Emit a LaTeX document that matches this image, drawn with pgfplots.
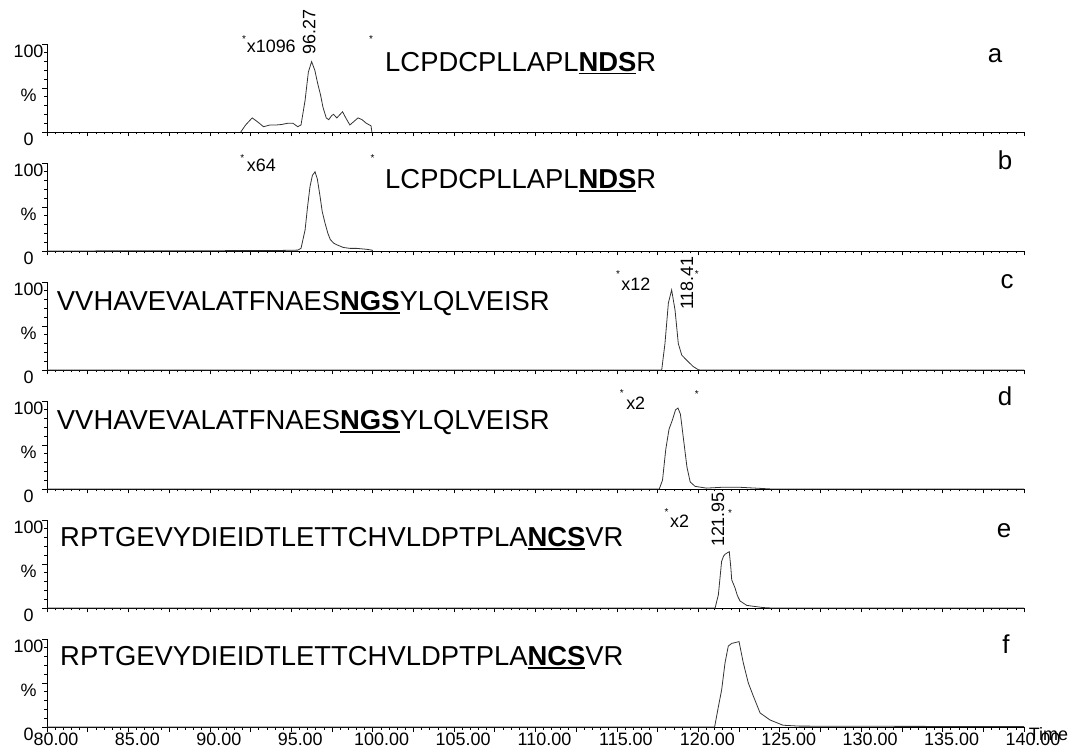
\documentclass[border=0pt]{standalone}
\usepackage{pgfplots}
\pgfplotsset{compat=1.18}
\usepackage{fontspec}
\setmainfont{Liberation Sans}
\newcommand{\ulb}[1]{\setbox0\hbox{\textbf{#1}}\rlap{\rule[-3bp]{\wd0}{1.8bp}}\box0}
\newcommand{\fs}[1]{\fontsize{#1}{#1}\selectfont}
\pgfplotsset{
 panel/.style={
  scale only axis, width=977bp, height=88bp,
  xmin=80, xmax=140, ymin=0, ymax=100,
  axis x line*=bottom, axis y line*=left,
  xtick={80,82.5,...,140}, minor x tick num=4,
  ytick={0,50,100}, yticklabels={0,\%,100}, minor y tick num=4,
  tick align=outside, major tick length=4.5bp, minor tick length=2.5bp,
  every tick/.style={black, line width=0.6bp},
  axis line style={black, line width=0.8bp},
  tick label style={font=\fs{18}},
  yticklabel style={anchor=center, xshift=-14bp, yshift=-7bp},
  xticklabels={},
  clip=false, anchor=south west,
 },
 curve/.style={line width=0.8bp, black!80, mark=none},
}
\begin{document}
\begin{tikzpicture}
\useasboundingbox (0,0) rectangle (1073bp,754bp);
% panel a
\begin{axis}[panel, at={(47bp,622bp)}]
\addplot[curve] coordinates {(91.9,0)(92.2,8)(92.6,16)(92.9,12)(93.3,6)(93.7,8)(94.1,8)(94.4,8.5)(94.8,10)(95.1,10)(95.4,6)(95.6,8)(95.85,36)(96.05,68)(96.25,80)(96.45,70)(96.6,57)(96.8,42)(96.95,28)(97.15,16)(97.3,14)(97.5,19)(97.6,20)(97.8,16)(98.0,20)(98.15,23)(98.35,16)(98.6,8)(98.85,12)(99.1,16)(99.35,14)(99.6,10)(99.9,7)(99.95,0)};
\node[font=\fs{10}] at (axis cs:92.1,106) {*};
\node[font=\fs{10}] at (axis cs:99.9,106) {*};
\node[font=\fs{18}, anchor=west, inner sep=1bp] at (axis cs:92.2,97) {x1096};
\node[font=\fs{18}, rotate=90, anchor=west, inner sep=1bp] at (axis cs:96.1,87) {96.27};
\node[font=\fs{27.5}, anchor=west, inner sep=0pt] at (axis cs:100.76,78) {LCPDCPLLAPL\ulb{NDS}R};
\node[font=\fs{26}] at (axis cs:138.22,87) {a};
\end{axis}
% panel b
\begin{axis}[panel, at={(47bp,503bp)}]
\addplot[curve] coordinates {(80,0)(94,0.5)(95.4,1)(95.6,3)(95.85,24)(96.0,50)(96.15,73)(96.3,86)(96.46,90)(96.6,82)(96.77,62)(96.9,45)(97.07,32)(97.25,20)(97.4,13)(97.6,9)(97.8,7)(98.2,4)(98.6,3)(99.0,3)(99.6,2)(99.95,1)(100,0)};
\node[font=\fs{10}] at (axis cs:92.0,106) {*};
\node[font=\fs{10}] at (axis cs:100.0,106) {*};
\node[font=\fs{18}, anchor=west, inner sep=1bp] at (axis cs:92.2,97) {x64};
\node[font=\fs{27.5}, anchor=west, inner sep=0pt] at (axis cs:100.76,80) {LCPDCPLLAPL\ulb{NDS}R};
\node[font=\fs{26}] at (axis cs:138.83,103) {b};
\end{axis}
% panel c
\begin{axis}[panel, at={(47bp,384bp)}]
\addplot[curve] coordinates {(80,0)(117.75,0)(117.95,30)(118.16,76)(118.36,91)(118.57,68)(118.77,30)(118.98,17)(119.29,11)(119.68,4)(119.98,0.5)(120.1,0)(140,0)};
\node[font=\fs{10}] at (axis cs:115.07,109) {*};
\node[font=\fs{10}] at (axis cs:119.9,109) {*};
\node[font=\fs{18}, anchor=west, inner sep=1bp] at (axis cs:115.2,98) {x12};
\node[font=\fs{18}, rotate=90, anchor=west, inner sep=1bp] at (axis cs:119.3,67) {118.41};
\node[font=\fs{27.5}, anchor=west, inner sep=0pt] at (axis cs:80.6,75) {VVHAVEVALATFNAES\ulb{NGS}YLQLVEISR};
\node[font=\fs{26}] at (axis cs:138.96,100) {c};
\end{axis}
% panel d
\begin{axis}[panel, at={(47bp,265bp)}]
\addplot[curve] coordinates {(80,0)(117.6,0)(117.8,10)(118.0,45)(118.2,68)(118.4,78)(118.6,90)(118.75,92)(118.9,85)(119.1,55)(119.3,25)(119.5,8)(119.8,3)(120.5,1)(121.5,2)(122.5,2)(123.5,1)(124.5,0)(140,0)};
\node[font=\fs{10}] at (axis cs:115.3,109) {*};
\node[font=\fs{10}] at (axis cs:119.9,108) {*};
\node[font=\fs{18}, anchor=west, inner sep=1bp] at (axis cs:115.5,98) {x2};
\node[font=\fs{27.5}, anchor=west, inner sep=0pt] at (axis cs:80.6,75) {VVHAVEVALATFNAES\ulb{NGS}YLQLVEISR};
\node[font=\fs{26}] at (axis cs:138.83,105) {d};
\end{axis}
% panel e
\begin{axis}[panel, at={(47bp,146bp)}]
\addplot[curve] coordinates {(80,0)(121.03,0)(121.23,15)(121.43,53)(121.55,59)(121.64,61)(121.8,63)(121.9,64)(122.0,45)(122.05,32)(122.25,23)(122.4,14)(122.56,8)(122.97,3)(123.36,2)(123.97,0.5)(124.5,0)(140,0)};
\node[font=\fs{10}] at (axis cs:118.05,109) {*};
\node[font=\fs{10}] at (axis cs:121.95,108) {*};
\node[font=\fs{18}, anchor=west, inner sep=1bp] at (axis cs:118.2,99) {x2};
\node[font=\fs{18}, rotate=90, anchor=west, inner sep=1bp] at (axis cs:121.2,68) {121.95};
\node[font=\fs{27.5}, anchor=west, inner sep=0pt] at (axis cs:80.8,79) {RPTGEVYDIEIDTLETTCHVLDPTPLA\ulb{NCS}VR};
\node[font=\fs{26}] at (axis cs:138.77,88) {e};
\end{axis}
% panel f
\begin{axis}[panel, at={(47bp,27bp)},
  xticklabels={80.00,,85.00,,90.00,,95.00,,100.00,,105.00,,110.00,,115.00,,120.00,,125.00,,130.00,,135.00,,140.00},
  xticklabel style={xshift=9bp, yshift=2bp}]
\addplot[curve] coordinates {(80,0)(121.0,0)(121.23,23)(121.43,42)(121.64,73)(121.84,92)(122.05,95)(122.5,97)(122.76,73)(123.07,50)(123.38,35)(123.79,16)(124.4,8)(125.2,2)(126.2,1)(130,0.8)(140,0.5)};
\node[font=\fs{27.5}, anchor=west, inner sep=0pt] at (axis cs:80.8,79) {RPTGEVYDIEIDTLETTCHVLDPTPLA\ulb{NCS}VR};
\node[font=\fs{26}] at (axis cs:138.9,94) {f};
\node[font=\fs{18}] at (axis cs:141.5,-8) {Time};
\end{axis}
\end{tikzpicture}
\end{document}
